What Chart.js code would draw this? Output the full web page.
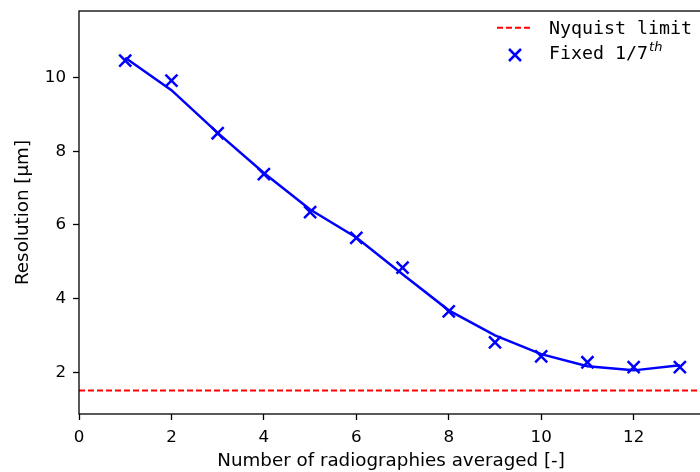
<!DOCTYPE html>
<html>
<head>
<meta charset="utf-8">
<script src="https://cdn.jsdelivr.net/npm/chart.js@4.4.0/dist/chart.umd.min.js"></script>
<style>
  html, body { margin: 0; padding: 0; background: #fff; overflow: hidden; }
  #wrap { width: 700px; height: 472px; overflow: hidden; }
</style>
</head>
<body>
<div id="wrap"><canvas id="chart" width="720" height="472"></canvas></div>
<script>
// Values
const radiographies = [1, 2, 3, 4, 5, 6, 7, 8, 9, 10, 11, 12, 13];
const measuredRes = [10.46, 9.92, 8.49, 7.38, 6.35, 5.65, 4.84, 3.65, 2.81, 2.43, 2.27, 2.14, 2.14];
const fittedRes = [10.54, 9.66, 8.50, 7.41, 6.42, 5.66, 4.66, 3.68, 3.00, 2.49, 2.16, 2.05, 2.19];
const nyquistLimit = 1.5;
const nyquistSpan = [0, 14];
const xTicks = [0, 2, 4, 6, 8, 10, 12];
const yTicks = [2, 4, 6, 8, 10];
const xRange = [0, 13.5];
const yRange = [0.865, 11.81];
const legendLabels = ['Nyquist limit', 'Fixed 1/7', 'th'];

const BLUE = '#0000ff';
const RED = '#ff0000';
const SANS = '"DejaVu Sans", sans-serif';
const MONO = '"DejaVu Sans Mono", monospace';

// Draws the axes box and the legend (matplotlib style, with superscript)
const frameAndLegend = {
  id: 'frameAndLegend',
  afterDraw(chart) {
    const { ctx, chartArea: a } = chart;
    ctx.save();
    ctx.strokeStyle = '#000';
    ctx.lineWidth = 1.3;
    ctx.strokeRect(a.left, a.top, a.right - a.left, a.bottom - a.top);

    const r = a.right;
    const t = a.top;

    // Nyquist entry
    ctx.strokeStyle = RED;
    ctx.lineWidth = 2;
    ctx.setLineDash([6, 3]);
    ctx.beginPath();
    ctx.moveTo(r - 206, t + 16.7);
    ctx.lineTo(r - 170, t + 16.7);
    ctx.stroke();
    ctx.setLineDash([]);

    ctx.fillStyle = '#000';
    ctx.textBaseline = 'alphabetic';
    ctx.textAlign = 'left';
    ctx.font = '18.3px ' + MONO;
    ctx.fillText(legendLabels[0], r - 154, t + 22.7);

    // Fixed 1/7th entry
    const mx = r - 188, my = t + 44, h = 6;
    ctx.strokeStyle = BLUE;
    ctx.lineWidth = 2.5;
    ctx.beginPath();
    ctx.moveTo(mx - h, my - h); ctx.lineTo(mx + h, my + h);
    ctx.moveTo(mx - h, my + h); ctx.lineTo(mx + h, my - h);
    ctx.stroke();

    ctx.fillText(legendLabels[1], r - 154, t + 47.7);
    const w = ctx.measureText(legendLabels[1]).width;
    ctx.font = 'italic 13px ' + SANS;
    ctx.fillText(legendLabels[2], r - 154 + w + 1, t + 39.5);
    ctx.restore();
  }
};

new Chart(document.getElementById('chart'), {
  type: 'scatter',
  data: {
    datasets: [
      {
        label: legendLabels[0],
        data: nyquistSpan.map(x => ({ x: x, y: nyquistLimit })),
        showLine: true,
        borderColor: RED,
        borderWidth: 2,
        borderDash: [6, 3],
        pointRadius: 0
      },
      {
        label: 'fit',
        data: radiographies.map((n, i) => ({ x: n, y: fittedRes[i] })),
        showLine: true,
        borderColor: BLUE,
        borderWidth: 2.5,
        tension: 0,
        pointRadius: 0
      },
      {
        label: legendLabels[1],
        data: radiographies.map((n, i) => ({ x: n, y: measuredRes[i] })),
        showLine: false,
        pointStyle: 'crossRot',
        pointRadius: 8.5,
        pointBorderColor: BLUE,
        pointBorderWidth: 2.5
      }
    ]
  },
  options: {
    responsive: false,
    animation: false,
    layout: { padding: { top: 9, right: 17, left: 0, bottom: 0 } },
    plugins: {
      legend: { display: false },
      tooltip: { enabled: false }
    },
    scales: {
      x: {
        type: 'linear',
        min: xRange[0],
        max: xRange[1],
        afterBuildTicks: s => { s.ticks = xTicks.map(v => ({ value: v })); },
        afterFit: s => { s.height = 58; s.paddingLeft = 0; s.paddingRight = 0; },
        grid: { drawOnChartArea: false, drawTicks: true, tickLength: 6, tickColor: '#000', tickWidth: 1.3 },
        border: { display: false },
        ticks: { color: '#000', padding: 8, font: { family: SANS, size: 16.7 }, maxRotation: 0 },
        title: {
          display: true,
          text: 'Number of radiographies averaged [-]',
          color: '#000',
          font: { family: SANS, size: 18.3 },
          padding: { top: 0, bottom: 0 }
        }
      },
      y: {
        type: 'linear',
        min: yRange[0],
        max: yRange[1],
        afterBuildTicks: s => { s.ticks = yTicks.map(v => ({ value: v })); },
        afterFit: s => { s.width = 79; s.paddingTop = 0; s.paddingBottom = 0; },
        grid: { drawOnChartArea: false, drawTicks: true, tickLength: 6, tickColor: '#000', tickWidth: 1.3 },
        border: { display: false },
        ticks: { color: '#000', padding: 7, font: { family: SANS, size: 16.7 } },
        title: {
          display: true,
          text: 'Resolution [μm]',
          color: '#000',
          font: { family: SANS, size: 18.3 },
          padding: { top: 12.5, bottom: 0 }
        }
      }
    }
  },
  plugins: [frameAndLegend]
});
</script>
</body>
</html>
